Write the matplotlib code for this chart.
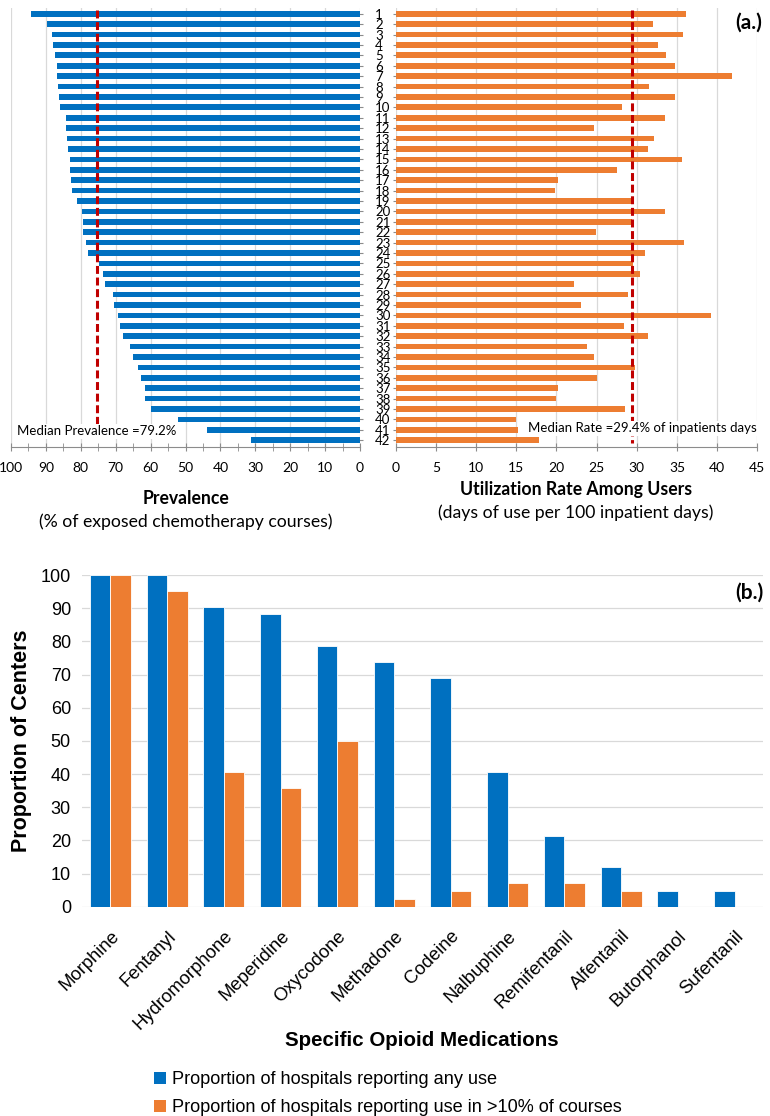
import matplotlib
matplotlib.use("Agg")
import matplotlib.pyplot as plt
import numpy as np
from matplotlib.patches import Patch

# ---------------- data ----------------
hospitals = list(range(1, 43))
prevalence = [94.4, 89.7, 88.2, 88.0, 87.3, 86.7, 86.7, 86.4, 86.2, 85.9,
              84.3, 84.3, 84.0, 83.7, 83.2, 83.0, 82.7, 82.4, 81.1, 79.7,
              79.4, 79.4, 78.4, 77.9, 74.7, 73.6, 73.2, 70.7, 70.6, 69.3,
              68.7, 67.8, 65.9, 65.1, 63.6, 62.8, 61.7, 61.7, 60.0, 52.1,
              43.9, 31.1]
util_rate = [36.1, 32.0, 35.7, 32.6, 33.6, 34.8, 41.8, 31.5, 34.7, 28.2,
             33.5, 24.7, 32.1, 31.4, 35.6, 27.5, 20.2, 19.8, 29.3, 33.5,
             29.4, 24.9, 35.9, 31.0, 29.5, 30.4, 22.2, 28.9, 23.1, 39.3,
             28.4, 31.4, 23.8, 24.7, 29.8, 25.0, 20.2, 20.0, 28.5, 15.0,
             15.2, 17.8]
median_prev_line = 75.4
median_prev_label = "Median Prevalence =79.2%"
median_rate = 29.4
median_rate_label = "Median Rate =29.4% of inpatients days"

medications = ["Morphine", "Fentanyl", "Hydromorphone", "Meperidine", "Oxycodone",
               "Methadone", "Codeine", "Nalbuphine", "Remifentanil", "Alfentanil",
               "Butorphanol", "Sufentanil"]
any_use = [100, 100, 90.5, 88.1, 78.6, 73.8, 69.0, 40.5, 21.4, 11.9, 4.8, 4.8]
use_gt10 = [100, 95.2, 40.5, 35.7, 50.0, 2.4, 4.8, 7.1, 7.1, 4.8, 0, 0]
legend_labels = ["Proportion of hospitals reporting any use",
                 "Proportion of hospitals reporting use in >10% of courses"]

BLUE = "#0070C0"
ORANGE = "#ED7D31"
RED = "#C00000"
GRID = "#D9D9D9"
AX = "#8C8C8C"
FA = "Lato"
FB = "Liberation Sans"

W, H = 770, 1116
fig = plt.figure(figsize=(W / 100, H / 100), dpi=100)


def box(x0, y0, x1, y1):
    return [x0 / W, 1 - y1 / H, (x1 - x0) / W, (y1 - y0) / H]


# ---------------- panel (a) left ----------------
axL = fig.add_axes(box(11, 8, 360, 447))
axL.barh(hospitals, prevalence, height=0.55, color=BLUE, zorder=2)
axL.set_xlim(100, 0)
axL.set_ylim(42.65, 0.45)
axL.set_xticks(np.arange(0, 101, 10))
axL.set_xticks(np.arange(0, 101, 5), minor=True)
axL.grid(axis="x", which="major", color=GRID, lw=0.9, zorder=0)
axL.set_axisbelow(True)
axL.yaxis.tick_right()
axL.set_yticks(hospitals)
axL.set_yticklabels([str(h) for h in hospitals], fontfamily=FA, fontsize=9.5)
for lab in axL.get_yticklabels():
    lab.set_horizontalalignment("left")
axL.tick_params(axis="y", direction="inout", length=4, color=AX, pad=9)
axL.tick_params(axis="x", which="both", direction="inout", length=6, color=AX,
                pad=8, labelsize=10)
for lab in axL.get_xticklabels():
    lab.set_fontfamily(FA)
for s in ["top", "left", "right"]:
    axL.spines[s].set_visible(False)
axL.spines["bottom"].set_color(AX)
axL.vlines(median_prev_line, 0.6, 41.75, colors=RED, lw=2.2,
           linestyles=(0, (2.6, 1.2)), zorder=3)
axL.text(98.2, 41.15, median_prev_label, fontfamily=FA, fontsize=9.5,
         ha="left", va="center", zorder=4,
         bbox=dict(facecolor="white", edgecolor="none", pad=1.0))

# ---------------- panel (a) right ----------------
axR = fig.add_axes(box(395.7, 8, 757.3, 447))
axR.barh(hospitals, util_rate, height=0.55, color=ORANGE, zorder=2)
axR.set_xlim(0, 45)
axR.set_ylim(42.65, 0.45)
axR.set_xticks(np.arange(0, 46, 5))
axR.grid(axis="x", color=GRID, lw=0.9, zorder=0)
axR.set_axisbelow(True)
axR.set_yticks(hospitals)
axR.set_yticklabels([])
axR.tick_params(axis="y", direction="inout", length=4, color=AX)
axR.tick_params(axis="x", direction="inout", length=6, color=AX, pad=8,
                labelsize=10)
for lab in axR.get_xticklabels():
    lab.set_fontfamily(FA)
for s in ["top", "left", "right"]:
    axR.spines[s].set_visible(False)
axR.spines["bottom"].set_color(AX)
axR.vlines(median_rate, 0.6, 42.3, colors=RED, lw=2.2,
           linestyles=(0, (2.6, 1.2)), zorder=3)
axR.text(44.9, 40.85, median_rate_label, fontfamily=FA, fontsize=9.5,
         ha="right", va="center", zorder=4,
         bbox=dict(facecolor="white", edgecolor="none", pad=1.0))

fig.text(762 / W, 1 - 23 / H, "(a.)", fontfamily=FA, fontweight="bold",
         fontsize=15, ha="right", va="center")

fig.text(186 / W, 1 - 499 / H, "Prevalence", fontfamily=FA, fontweight="bold",
         fontsize=12.7, ha="center", va="center")
fig.text(186 / W, 1 - 522 / H, "(% of exposed chemotherapy courses)",
         fontfamily=FA, fontsize=12.7, ha="center", va="center")
fig.text(576 / W, 1 - 490 / H, "Utilization Rate Among Users", fontfamily=FA,
         fontweight="bold", fontsize=12.7, ha="center", va="center")
fig.text(576 / W, 1 - 513 / H, "(days of use per 100 inpatient days)",
         fontfamily=FA, fontsize=12.7, ha="center", va="center")

# ---------------- panel (b) ----------------
axB = fig.add_axes(box(82, 575, 763, 906.7))
x = np.arange(len(medications))
bw = 0.36
axB.bar(x - bw / 2, any_use, width=bw, color=BLUE, edgecolor="white",
        linewidth=0.6, label=legend_labels[0], zorder=2)
axB.bar(x + bw / 2, use_gt10, width=bw, color=ORANGE, edgecolor="white",
        linewidth=0.6, label=legend_labels[1], zorder=2)
axB.set_xlim(-0.5, len(medications) - 0.5)
axB.set_ylim(0, 100)
axB.set_yticks(np.arange(0, 101, 10))
axB.grid(axis="y", color=GRID, lw=0.9, zorder=0)
axB.set_axisbelow(True)
for s in axB.spines.values():
    s.set_visible(False)
axB.tick_params(axis="both", length=0)
axB.tick_params(axis="y", pad=8)
axB.tick_params(axis="x", pad=15)
axB.set_xticks(x)
axB.set_xticklabels(medications, rotation=45, ha="right", va="top",
                    rotation_mode="anchor", fontfamily=FB, fontsize=13.3)
for lab in axB.get_yticklabels():
    lab.set_fontfamily(FB)
    lab.set_fontsize(13)
axB.set_ylabel("Proportion of Centers", fontfamily=FB, fontweight="bold",
               fontsize=15.5, labelpad=6)
fig.text(422 / W, 1 - 1040 / H, "Specific Opioid Medications", fontfamily=FB,
         fontweight="bold", fontsize=14.8, ha="center", va="center")
fig.text(763 / W, 1 - 593 / H, "(b.)", fontfamily=FA, fontweight="bold",
         fontsize=15, ha="right", va="center")

handles = [Patch(facecolor=BLUE, edgecolor="none"),
           Patch(facecolor=ORANGE, edgecolor="none")]
fig.legend(handles, legend_labels, loc="upper left",
           bbox_to_anchor=(154 / W, 1 - 1071 / H), frameon=False,
           prop={"family": FB, "size": 13.1}, handlelength=0.65,
           handleheight=0.65, handletextpad=0.35, labelspacing=0.62,
           borderpad=0, borderaxespad=0)

fig.savefig("out.png", dpi=100)
